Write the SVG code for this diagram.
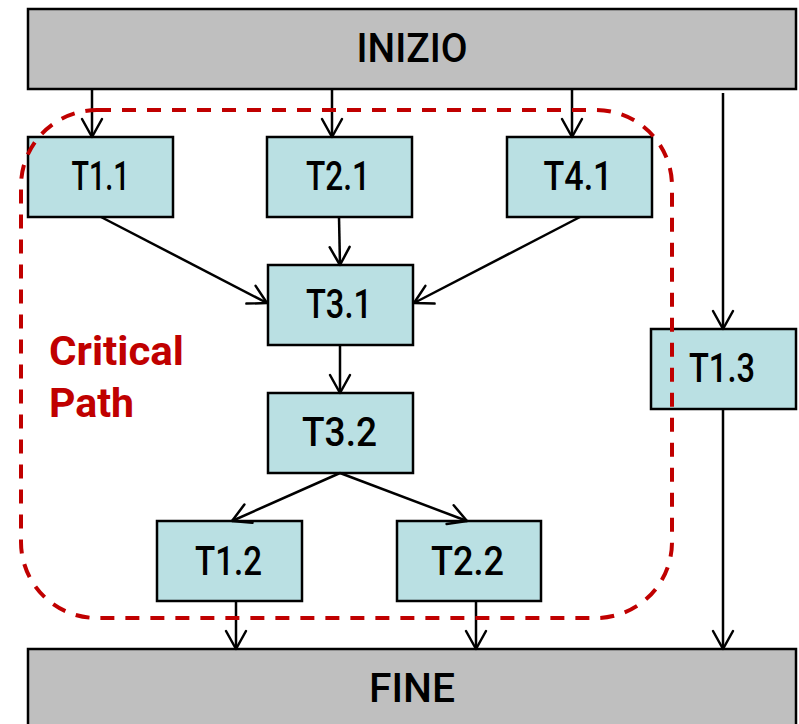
<svg xmlns="http://www.w3.org/2000/svg" width="799" height="724" viewBox="0 0 799 724">
<style>
.term{fill:#BFBFBF;stroke:#000;stroke-width:2.5}
.task{fill:#BAE0E3;stroke:#000;stroke-width:2.5}
.lbl{font-family:Roboto,"Liberation Sans",Arial,sans-serif;font-size:41px;font-weight:500;fill:#000;text-anchor:middle}
.crit{font-family:Roboto,"Liberation Sans",Arial,sans-serif;font-size:40px;font-weight:bold;fill:#C00000}
.edge{stroke:#000;stroke-width:2.5;fill:none;marker-end:url(#arr)}
</style>
<defs>
<marker id="arr" markerUnits="userSpaceOnUse" markerWidth="26" markerHeight="26" viewBox="-22 -13 26 26" refX="0" refY="0" orient="auto">
<path d="M-18,-10 L0,0 L-18,10" fill="none" stroke="#000" stroke-width="2.5" stroke-linejoin="round" stroke-linecap="round"/>
</marker>
</defs>
<g id="INIZIO"><rect class="term" x="28" y="9" width="768" height="80"/><text class="lbl" x="412" y="62" textLength="111" lengthAdjust="spacingAndGlyphs">INIZIO</text></g>
<g id="FINE"><rect class="term" x="28" y="649" width="768" height="90"/><text class="lbl" x="412" y="702" textLength="86" lengthAdjust="spacingAndGlyphs">FINE</text></g>
<g id="T1.1"><rect class="task" x="28" y="137" width="145" height="80"/><text class="lbl" x="100.5" y="190" textLength="58" lengthAdjust="spacingAndGlyphs">T1.1</text></g>
<g id="T2.1"><rect class="task" x="267" y="137" width="145" height="80"/><text class="lbl" x="338" y="190" textLength="64" lengthAdjust="spacingAndGlyphs">T2.1</text></g>
<g id="T4.1"><rect class="task" x="507" y="137" width="145" height="80"/><text class="lbl" x="578" y="190" textLength="69" lengthAdjust="spacingAndGlyphs">T4.1</text></g>
<g id="T3.1"><rect class="task" x="268" y="265" width="145" height="80"/><text class="lbl" x="339" y="318" textLength="66" lengthAdjust="spacingAndGlyphs">T3.1</text></g>
<g id="T3.2"><rect class="task" x="268" y="393" width="145" height="80"/><text class="lbl" x="339.5" y="446" textLength="75" lengthAdjust="spacingAndGlyphs">T3.2</text></g>
<g id="T1.3"><rect class="task" x="651" y="329" width="145" height="80"/><text class="lbl" x="722" y="382" textLength="66" lengthAdjust="spacingAndGlyphs">T1.3</text></g>
<g id="T1.2"><rect class="task" x="157" y="521" width="145" height="80"/><text class="lbl" x="228.5" y="575" textLength="67" lengthAdjust="spacingAndGlyphs">T1.2</text></g>
<g id="T2.2"><rect class="task" x="397" y="521" width="144" height="80"/><text class="lbl" x="467.5" y="575" textLength="73" lengthAdjust="spacingAndGlyphs">T2.2</text></g>
<g id="connectors">
<line class="edge" x1="92" y1="89" x2="92" y2="137"/>
<line class="edge" x1="332" y1="89" x2="332" y2="137"/>
<line class="edge" x1="572" y1="89" x2="572" y2="137"/>
<line class="edge" x1="723" y1="93" x2="723" y2="329"/>
<line class="edge" x1="101" y1="217" x2="267" y2="303"/>
<line class="edge" x1="339" y1="217" x2="340" y2="265"/>
<line class="edge" x1="580" y1="217" x2="414" y2="303"/>
<line class="edge" x1="340" y1="345" x2="340" y2="393"/>
<line class="edge" x1="340" y1="473" x2="232" y2="521"/>
<line class="edge" x1="340" y1="473" x2="467" y2="521"/>
<line class="edge" x1="236" y1="601" x2="236" y2="649"/>
<line class="edge" x1="476" y1="601" x2="476" y2="649"/>
<line class="edge" x1="723" y1="409" x2="723" y2="649"/>
</g>
<g id="critical-path">
<rect x="21" y="110" width="651" height="508" rx="76" ry="76" fill="none" stroke="#C00000" stroke-width="4" stroke-dasharray="14 11"/>
<text class="crit" x="49" y="365" textLength="135" lengthAdjust="spacingAndGlyphs">Critical</text>
<text class="crit" x="49" y="417" textLength="85" lengthAdjust="spacingAndGlyphs">Path</text>
</g>
</svg>
